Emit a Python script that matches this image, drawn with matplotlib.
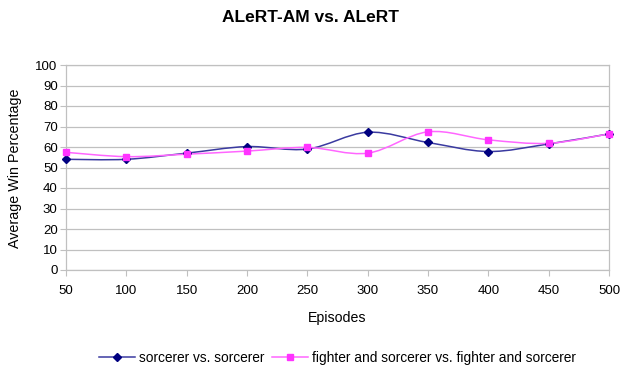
import matplotlib
matplotlib.use("Agg")
import matplotlib.pyplot as plt
from matplotlib.path import Path
from matplotlib.patches import PathPatch
from matplotlib.lines import Line2D
import numpy as np

plt.rcParams['font.family'] = ['Liberation Sans', 'DejaVu Sans']

episodes = [50, 100, 150, 200, 250, 300, 350, 400, 450, 500]
sorcerer = [54.0, 54.0, 57.0, 60.2, 59.0, 67.2, 62.2, 57.8, 61.5, 66.4]
fighter_sorcerer = [57.4, 55.3, 56.5, 58.0, 59.8, 57.0, 67.4, 63.5, 61.8, 66.4]
yticks = list(range(0, 101, 10))

title = "ALeRT-AM vs. ALeRT"
xlabel = "Episodes"
ylabel = "Average Win Percentage"
names = ["sorcerer vs. sorcerer", "fighter and sorcerer vs. fighter and sorcerer"]

fig = plt.figure(figsize=(6.21, 3.69), dpi=100)
ax = fig.add_axes([66/621, 1-270/369, (609-66)/621, (270-65)/369])

grid_c = "#c0c0c0"


def smooth_path(xs, ys):
    pts = np.column_stack([xs, ys]).astype(float)
    n = len(pts)
    verts = [pts[0]]
    codes = [Path.MOVETO]
    for i in range(n - 1):
        p0 = pts[i - 1] if i > 0 else pts[i]
        p1 = pts[i]
        p2 = pts[i + 1]
        p3 = pts[i + 2] if i + 2 < n else pts[i + 1]
        c1 = p1 + (p2 - p0) / 6.0
        c2 = p2 - (p3 - p1) / 6.0
        verts += [c1, c2, p2]
        codes += [Path.CURVE4] * 3
    return Path(verts, codes)


series = [
    (sorcerer, "#000080", "D", 4.5, "#3a3aa0"),
    (fighter_sorcerer, "#ff33ff", "s", 4.6, "#ff66ff"),
]
handles = []
for (vals, mc, mk, ms, lc), name in zip(series, names):
    patch = PathPatch(smooth_path(episodes, vals), facecolor="none",
                      edgecolor=lc, lw=1.1, transform=ax.transData, zorder=3)
    ax.add_patch(patch)
    ax.plot(episodes, vals, linestyle="none", marker=mk, markersize=ms,
            color=mc, zorder=4, clip_on=False)
    handles.append(Line2D([0], [0], color=lc, lw=1.1, marker=mk,
                          markersize=ms - 0.8, markerfacecolor=mc, markeredgecolor=mc))

ax.set_xlim(50, 500)
ax.set_ylim(0, 100)
ax.set_xticks(episodes)
ax.set_xticklabels([str(e) for e in episodes])
ax.set_yticks(yticks)
ax.set_yticklabels([str(t) for t in yticks])
ax.grid(axis="y", color=grid_c, lw=0.9)
ax.set_axisbelow(True)
for s in ax.spines.values():
    s.set_color(grid_c)
    s.set_linewidth(0.9)
ax.tick_params(axis="y", length=4, color=grid_c, labelsize=9.5, pad=2)
ax.tick_params(axis="x", length=4, color=grid_c, labelsize=9.5, pad=7, direction="out")

cx = (66 + 609) / 2 / 621
fig.text(0.5, 1-18/369, title, ha="center", va="center", fontsize=12.5, fontweight="bold")
fig.text(cx, 1-318/369, xlabel, ha="center", va="center", fontsize=10.2)
fig.text(15/621, 1-168/369, ylabel, ha="center", va="center", fontsize=10.3, rotation=90)

fig.legend(handles, names, loc="center", bbox_to_anchor=(cx, 1-358/369),
           ncol=2, frameon=False, fontsize=9.9, handlelength=2.6,
           handletextpad=0.3, columnspacing=0.6)

fig.savefig("out.png", dpi=100, facecolor="white")
